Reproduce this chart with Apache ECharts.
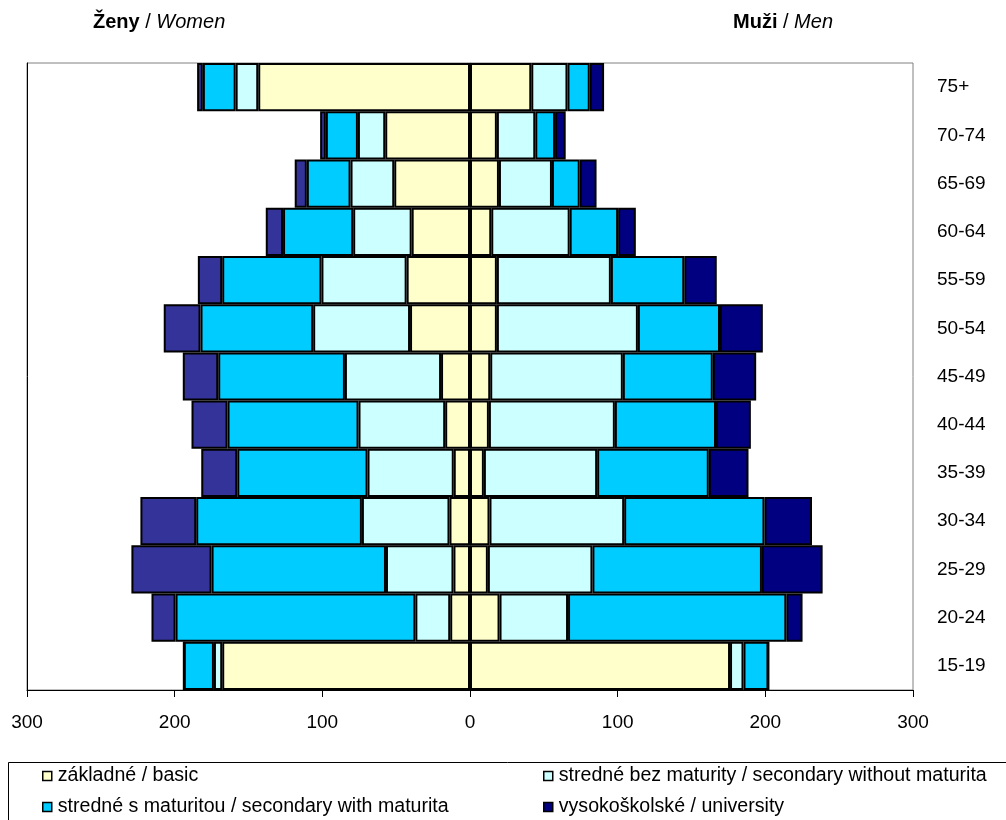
<!DOCTYPE html>
<html><head><meta charset="utf-8">
<script src="https://cdn.jsdelivr.net/npm/echarts@6/dist/echarts.min.js"></script>
<style>html,body{margin:0;padding:0;background:#fff}#c{width:1006px;height:820px}</style>
</head><body><div id="c"></div>
<script>
const categories = ['15-19','20-24','25-29','30-34','35-39','40-44','45-49','50-54','55-59','60-64','65-69','70-74','75+'];
const xTicks = [-300,-200,-100,0,100,200,300];
const legendNames = ['základné / basic','stredné bez maturity / secondary without maturita','stredné s maturitou / secondary with maturita','vysokoškolské / university'];
// Women (thousands)
const womenBasic   = [167.8, 13.4, 11.2, 13.9, 11.0, 16.8, 19.6, 40.6, 42.9, 39.5, 51.3, 57.4, 143.4];
const womenSecWo   = [5.6, 23.6, 45.7, 59.3, 58.4, 58.7, 65.1, 65.6, 57.7, 39.6, 29.6, 18.5, 15.3];
const womenSecWith = [20.4, 162.4, 118.1, 112.2, 88.2, 88.7, 85.8, 76.3, 67.2, 47.5, 29.6, 21.7, 22.2];
const womenUniv    = [0, 16.3, 54.3, 37.8, 24.4, 24.4, 24.0, 24.9, 16.5, 11.7, 8.2, 3.9, 3.9];
// Men (thousands)
const menBasic   = [176.1, 20.0, 12.1, 13.2, 9.4, 12.8, 13.7, 18.2, 18.2, 14.4, 19.6, 18.2, 41.5];
const menSecWo   = [9.1, 46.4, 70.8, 91.2, 76.7, 85.3, 89.8, 95.5, 77.2, 53.1, 35.9, 26.0, 24.5];
const menSecWith = [16.9, 147.8, 114.8, 95.0, 75.6, 68.5, 60.9, 55.6, 49.7, 32.8, 18.8, 13.4, 15.1];
const menUniv    = [0, 11.0, 41.1, 32.2, 26.9, 23.6, 29.4, 29.0, 22.0, 12.0, 11.4, 7.2, 9.7];

const colBasic = '#FFFFCC', colSecWo = '#CCFFFF', colSecWith = '#00CCFF', colUnivW = '#333399', colUnivM = '#000080';
const FONT = 'Liberation Sans, Arial, sans-serif';

function bar(name, stack, data, color) {
  return {
    name: name, type: 'bar', stack: stack, data: data,
    barCategoryGap: '0%', barGap: '-100%',
    itemStyle: { color: color, borderColor: '#000', borderWidth: 2 },
    emphasis: { disabled: true }, animation: false
  };
}
const neg = a => a.map(v => -v);
const titleStyle = { fontSize: 20, fontWeight: 'normal', color: '#000', fontFamily: FONT,
  rich: { b: { fontWeight: 'bold', fontSize: 20, fontFamily: FONT }, i: { fontStyle: 'italic', fontSize: 20, fontFamily: FONT } } };
const legendCommon = { orient: 'vertical', top: 761, height: 120, itemWidth: 9, itemHeight: 9, itemGap: 11, icon: 'rect',
  itemStyle: { borderColor: '#000', borderWidth: 1.5 },
  textStyle: { fontSize: 19.6, color: '#000', fontFamily: FONT, padding: [0,0,0,1] }, selectedMode: false };

const chart = echarts.init(document.getElementById('c'));
chart.setOption({
  animation: false,
  backgroundColor: '#fff',
  textStyle: { fontFamily: FONT },
  title: [
    { text: '{b|Ženy} / {i|Women}', left: 88, top: 7, textStyle: titleStyle },
    { text: '{b|Muži} / {i|Men}', left: 728, top: 7, textStyle: titleStyle }
  ],
  grid: { left: 27, right: 93, top: 63, bottom: 130, show: true, borderColor: '#808080', borderWidth: 1, containLabel: false },
  xAxis: {
    type: 'value', min: -300, max: 300, interval: 100,
    axisLine: { show: true, onZero: false, lineStyle: { color: '#000', width: 1 } },
    axisTick: { show: true, length: 7, inside: false, lineStyle: { color: '#000' } },
    splitLine: { show: false },
    axisLabel: { margin: 23, fontSize: 19, color: '#000', fontFamily: FONT, formatter: v => String(Math.abs(v)) }
  },
  yAxis: [
    { type: 'category', data: categories, position: 'right',
      axisLine: { show: true, lineStyle: { color: '#808080' } },
      axisTick: { show: false },
      axisLabel: { margin: 24, fontSize: 19, color: '#000', fontFamily: FONT } },
    { type: 'category', data: categories, position: 'left',
      axisLine: { show: true, lineStyle: { color: '#000' } },
      axisTick: { show: false }, axisLabel: { show: false } }
  ],
  legend: [
    Object.assign({ data: [legendNames[0], legendNames[2]], left: 37 }, legendCommon),
    Object.assign({ data: [legendNames[1], legendNames[3]], left: 538 }, legendCommon)
  ],
  graphic: [
    { type: 'rect', left: 8, top: 762, shape: { width: 1010, height: 70 }, z: -1,
      style: { fill: '#fff', stroke: '#000', lineWidth: 1 } }
  ],
  series: [
    bar('Ženy základné', 'w', neg(womenBasic), colBasic),
    bar('Ženy stredné bez maturity', 'w', neg(womenSecWo), colSecWo),
    bar('Ženy stredné s maturitou', 'w', neg(womenSecWith), colSecWith),
    bar('Ženy vysokoškolské', 'w', neg(womenUniv), colUnivW),
    bar(legendNames[0], 'm', menBasic, colBasic),
    bar(legendNames[1], 'm', menSecWo, colSecWo),
    bar(legendNames[2], 'm', menSecWith, colSecWith),
    bar(legendNames[3], 'm', menUniv, colUnivM)
  ]
});
</script></body></html>
